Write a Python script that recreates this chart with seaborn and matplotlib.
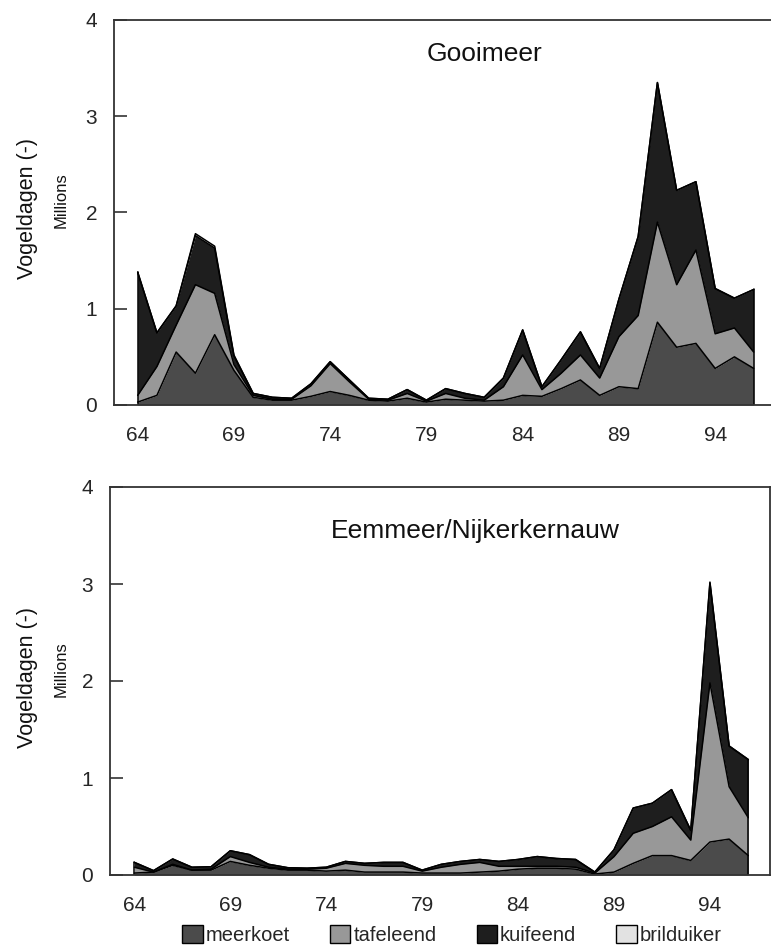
import numpy as np
import pandas as pd
import matplotlib
matplotlib.use("Agg")
import matplotlib.pyplot as plt
from matplotlib.patches import Patch
import seaborn as sns

# ---------------- data (millions of bird-days) ----------------
years = list(range(64, 97))
tick_years = [64, 69, 74, 79, 84, 89, 94]
tick_labels = ["64", "69", "74", "79", "84", "89", "94"]
species = ["meerkoet", "tafeleend", "kuifeend", "brilduiker"]

# Gooimeer
goo_meerkoet = [0.03, 0.10, 0.55, 0.33, 0.73, 0.36, 0.08, 0.05, 0.05, 0.09,
                0.14, 0.10, 0.05, 0.04, 0.07, 0.03, 0.06, 0.05, 0.04, 0.05,
                0.10, 0.09, 0.17, 0.26, 0.10, 0.19, 0.17, 0.86, 0.60, 0.64,
                0.38, 0.50, 0.38]
goo_tafeleend = [0.07, 0.30, 0.28, 0.92, 0.43, 0.06, 0.02, 0.01, 0.01, 0.11,
                 0.29, 0.14, 0.01, 0.01, 0.05, 0.01, 0.06, 0.02, 0.01, 0.14,
                 0.42, 0.07, 0.16, 0.26, 0.18, 0.52, 0.76, 1.04, 0.65, 0.97,
                 0.36, 0.30, 0.17]
goo_kuifeend = [1.28, 0.35, 0.20, 0.51, 0.47, 0.09, 0.02, 0.02, 0.01, 0.02,
                0.02, 0.02, 0.01, 0.01, 0.04, 0.01, 0.05, 0.05, 0.03, 0.09,
                0.26, 0.03, 0.14, 0.24, 0.10, 0.39, 0.82, 1.45, 0.98, 0.71,
                0.47, 0.31, 0.65]
goo_brilduiker = [0.00, 0.00, 0.00, 0.02, 0.02, 0.01, 0.00, 0.00, 0.00, 0.00,
                  0.00, 0.00, 0.00, 0.00, 0.00, 0.00, 0.00, 0.00, 0.00, 0.00,
                  0.00, 0.00, 0.00, 0.00, 0.00, 0.00, 0.00, 0.00, 0.00, 0.00,
                  0.00, 0.00, 0.00]

# Eemmeer/Nijkerkernauw
eem_meerkoet = [0.02, 0.03, 0.10, 0.05, 0.05, 0.14, 0.10, 0.07, 0.05, 0.05,
                0.04, 0.05, 0.03, 0.03, 0.03, 0.02, 0.02, 0.02, 0.03, 0.04,
                0.06, 0.07, 0.07, 0.06, 0.01, 0.03, 0.12, 0.20, 0.20, 0.15,
                0.34, 0.37, 0.20]
eem_tafeleend = [0.06, 0.00, 0.01, 0.00, 0.01, 0.05, 0.03, 0.01, 0.01, 0.01,
                 0.03, 0.07, 0.07, 0.06, 0.06, 0.02, 0.06, 0.09, 0.10, 0.05,
                 0.03, 0.02, 0.02, 0.02, 0.01, 0.16, 0.31, 0.30, 0.40, 0.21,
                 1.64, 0.54, 0.39]
eem_kuifeend = [0.05, 0.015, 0.055, 0.03, 0.025, 0.06, 0.08, 0.03, 0.015, 0.01,
                0.01, 0.02, 0.02, 0.04, 0.04, 0.01, 0.03, 0.03, 0.03, 0.05,
                0.07, 0.10, 0.08, 0.08, 0.01, 0.07, 0.26, 0.24, 0.28, 0.10,
                1.03, 0.42, 0.60]
eem_brilduiker = [0.00, 0.00, 0.00, 0.00, 0.00, 0.00, 0.00, 0.00, 0.00, 0.00,
                  0.00, 0.00, 0.00, 0.00, 0.00, 0.00, 0.00, 0.00, 0.00, 0.00,
                  0.00, 0.00, 0.00, 0.00, 0.00, 0.00, 0.00, 0.00, 0.00, 0.00,
                  0.01, 0.00, 0.00]

colors = ["#4b4b4b", "#989898", "#1e1e1e", "#e2e2e2"]

# ---------------- style ----------------
sns.set_theme(style="white")
plt.rcParams["font.family"] = ["Liberation Sans", "DejaVu Sans"]

W, H = 771, 947
fig = plt.figure(figsize=(W / 100, H / 100), dpi=100)

def px_axes(left, top, right, bottom):
    return fig.add_axes([left / W, 1 - bottom / H, (right - left) / W, (bottom - top) / H])

ax_top = px_axes(114, 20, 771, 405)
ax_bot = px_axes(110, 487, 770, 875)

panels = [
    (ax_top, "Gooimeer", [goo_meerkoet, goo_tafeleend, goo_kuifeend, goo_brilduiker],
     (62.77, 96.9), (485, 54)),
    (ax_bot, "Eemmeer/Nijkerkernauw", [eem_meerkoet, eem_tafeleend, eem_kuifeend, eem_brilduiker],
     (62.73, 97.13), (475, 531)),
]

for ax, title, series, xlim, tpos in panels:
    df = pd.DataFrame({"jaar": years})
    for name, vals in zip(species, series):
        df[name] = vals
    ax.stackplot(df["jaar"], [df[s] for s in species], colors=colors, linewidth=0)
    cum = df[species].cumsum(axis=1)
    for s in species:
        sns.lineplot(x=df["jaar"], y=cum[s], ax=ax, color="black", linewidth=1.1,
                     legend=False)
    ax.plot([years[-1], years[-1]], [0, cum[species[-1]].iloc[-1]], color="black", lw=1.1)
    ax.plot([years[0], years[0]], [0, cum[species[-1]].iloc[0]], color="black", lw=1.1)

    ax.set_xlim(*xlim)
    ax.set_ylim(0, 4)
    ax.set_yticks([0, 1, 2, 3, 4])
    ax.set_yticklabels(["0", "1", "2", "3", "4"])
    ax.set_xticks(tick_years)
    ax.set_xticklabels(tick_labels)
    ax.tick_params(axis="y", direction="in", length=9, width=1.2, color="#333333",
                   labelsize=15, pad=12, left=True)
    ax.tick_params(axis="x", length=0, labelsize=15, pad=15)
    ax.set_xlabel("")
    ax.set_ylabel("")
    for sp in ax.spines.values():
        sp.set_color("#333333")
        sp.set_linewidth(1.3)
    fig.text(tpos[0] / W, 1 - tpos[1] / H, title, ha="center", va="center",
             fontsize=19, color="#111111")

ax_top.spines["right"].set_visible(False)

# y labels
for cy in [(20 + 405) / 2, (487 + 875) / 2]:
    fig.text(27 / W, 1 - (cy - 4) / H, "Vogeldagen (-)", rotation=90, ha="center",
             va="center", fontsize=15.5, color="#111111")
    fig.text(61 / W, 1 - (cy - 12) / H, "Millions", rotation=90, ha="center",
             va="center", fontsize=12, color="#111111")

handles = [Patch(facecolor=c, edgecolor="black", linewidth=1.0) for c in colors]
fig.legend(handles, species, loc="center", bbox_to_anchor=(452 / W, 1 - 935 / H),
           ncol=4, frameon=False, fontsize=14.5, handlelength=1.0, handleheight=1.0,
           handletextpad=0.15, columnspacing=2.0, borderaxespad=0)

fig.savefig("out.png", dpi=100)
